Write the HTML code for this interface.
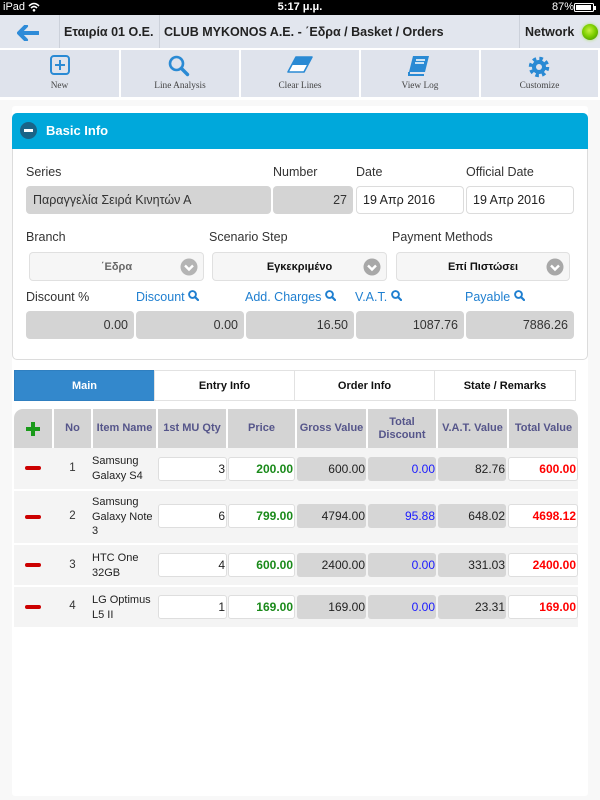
<!DOCTYPE html>
<html><head><meta charset="utf-8">
<style>
*{margin:0;padding:0;box-sizing:border-box}
body{width:600px;height:800px;overflow:hidden;background:#f7f7f7;font-family:"Liberation Sans","DejaVu Sans",sans-serif;position:relative;color:#222}
.a{position:absolute}
.lbl{position:absolute;font-size:12.5px;color:#333;line-height:16px;white-space:nowrap}
.blue{color:#1f7fd0}
.fld{position:absolute;height:28px;line-height:28px;font-size:12.5px;border-radius:4px;white-space:nowrap;overflow:hidden}
.gray{background:#d4d4d4;color:#333;text-align:right;padding-right:6px}
.wht{background:#fff;border:1px solid #dcdcdc;color:#222;padding-left:6px;line-height:26px}
.dd{position:absolute;top:252px;height:29px;background:#f6f6f6;border:1px solid #e0e0e0;border-radius:4px;font-size:11px;font-weight:bold;line-height:28px;text-align:center}
.chev{position:absolute;top:5px;width:18px;height:18px}
.tb{position:absolute;top:50px;height:47px;background:#dfe3ec}
.tbl{position:absolute;top:30px;left:0;right:0;text-align:center;font-family:"Liberation Serif",serif;font-size:9.3px;color:#444;line-height:12px}
.tab{position:absolute;top:370px;height:31px;line-height:31px;text-align:center;font-size:11px;font-weight:bold;background:#fff;border:1px solid #e2e2e2;color:#111}
.th{position:absolute;top:409px;height:39px;background:#d4d4d4;color:#55558a;font-size:11px;font-weight:bold;text-align:center;display:flex;align-items:center;justify-content:center;line-height:13px}
.row{position:absolute;left:14px;width:564px;background:#f4f4f4}
.c{position:absolute;height:24px;line-height:24px;font-size:12px;text-align:right;padding-right:1px;border-radius:3px;white-space:nowrap}
.iw{background:#fff;border:1px solid #dedede;line-height:22px}
.ig{background:#d6d6d6}
.minus{position:absolute;left:25px;width:16px;height:4px;background:#cc0000;border-radius:2px}
.no{position:absolute;left:54px;width:37px;text-align:center;font-size:11.5px;color:#333}
.nm{position:absolute;left:92px;font-size:11px;line-height:14.5px;color:#222}
</style></head><body>

<!-- status bar -->
<div class="a" style="left:0;top:0;width:600px;height:15px;background:#000"></div>
<div class="a" style="left:3px;top:1px;color:#fff;font-size:11px;line-height:13px">iPad</div>
<svg class="a" style="left:28px;top:2px" width="12" height="10" viewBox="0 0 12 10"><path d="M1 4 Q6 -1 11 4" stroke="#fff" stroke-width="1.6" fill="none"/><path d="M3 6 Q6 3 9 6" stroke="#fff" stroke-width="1.6" fill="none"/><circle cx="6" cy="8.3" r="1.3" fill="#fff"/></svg>
<div class="a" style="left:260px;width:80px;top:1px;color:#fff;font-size:11px;font-weight:bold;line-height:13px;text-align:center">5:17 μ.μ.</div>
<div class="a" style="left:552px;top:1px;color:#fff;font-size:11px;line-height:13px">87%</div>
<div class="a" style="left:574px;top:3px;width:20px;height:9px;border:1px solid #fff;border-radius:1.5px;padding:1px"><div style="width:15px;height:5px;background:#fff"></div></div>
<div class="a" style="left:594px;top:5.5px;width:2px;height:4px;background:#fff"></div>

<!-- nav bar -->
<div class="a" style="left:0;top:15px;width:600px;height:33px;background:#e2e6ee"></div>
<div class="a" style="left:0;top:48px;width:600px;height:52px;background:#fff"></div>
<svg class="a" style="left:17px;top:25px" width="22" height="16" viewBox="0 0 22 16"><path d="M9 1 L2 8 L9 15 M2.5 8 L21 8" stroke="#2e8bd8" stroke-width="4" fill="none" stroke-linejoin="round" stroke-linecap="round"/></svg>
<div class="a" style="left:59px;top:15px;width:1px;height:33px;background:#ccd1da"></div>
<div class="a" style="left:159px;top:15px;width:1px;height:33px;background:#ccd1da"></div>
<div class="a" style="left:519px;top:15px;width:1px;height:33px;background:#ccd1da"></div>
<div class="a" style="left:64px;top:24px;font-size:12.5px;font-weight:bold;line-height:16px;white-space:nowrap">Εταιρία 01 Ο.Ε.</div>
<div class="a" style="left:164px;top:24px;font-size:12.5px;font-weight:bold;line-height:16px;white-space:nowrap">CLUB MYKONOS A.E. - ΄Εδρα / Basket / Orders</div>
<div class="a" style="left:525px;top:24px;font-size:12.5px;font-weight:bold;line-height:16px;white-space:nowrap">Network</div>
<div class="a" style="left:582px;top:24px;width:16px;height:16px;border-radius:50%;background:radial-gradient(circle at 45% 40%,#c8f040 0%,#7ed000 45%,#58a800 75%,#d8e8c8 80%,#f0f4ea 100%);box-shadow:0 0 3px #a8e060"></div>

<!-- toolbar -->
<div class="tb" style="left:0;width:119px">
<svg class="a" style="left:50px;top:5px" width="20" height="20" viewBox="0 0 20 20"><rect x="1" y="1" width="18" height="18" rx="3" stroke="#2a8ad4" stroke-width="2" fill="none"/><path d="M10 5 V15 M5 10 H15" stroke="#2a8ad4" stroke-width="2"/></svg>
<div class="tbl">New</div></div>
<div class="tb" style="left:121px;width:118px">
<svg class="a" style="left:47px;top:5px" width="22" height="22" viewBox="0 0 22 22"><circle cx="8.5" cy="8.5" r="6.5" stroke="#2a8ad4" stroke-width="2.6" fill="none"/><path d="M13.5 13.5 L19.5 19.5" stroke="#2a8ad4" stroke-width="3.4" stroke-linecap="round"/></svg>
<div class="tbl">Line Analysis</div></div>
<div class="tb" style="left:241px;width:118px">
<svg class="a" style="left:45px;top:6px" width="28" height="18" viewBox="0 0 28 18"><path d="M10 1 L26 1 L18 16 L2 16 Z" fill="#2a8ad4"/><path d="M6 9 L22 9 L18 16 L2 16 Z" fill="#fff"/><path d="M10 1 L26 1 L18 16 L2 16 Z" stroke="#2a8ad4" stroke-width="1.6" fill="none" stroke-linejoin="round"/></svg>
<div class="tbl">Clear Lines</div></div>
<div class="tb" style="left:361px;width:118px">
<svg class="a" style="left:46px;top:5px" width="24" height="22" viewBox="0 0 24 22"><path d="M6 1 L22 1 L18 17 L2 17 Z" fill="#2a8ad4"/><path d="M2 17 L2 20 L17 20" stroke="#2a8ad4" stroke-width="2" fill="none"/><path d="M9 5 L18 5 M8 8 L17 8" stroke="#fff" stroke-width="1.4"/></svg>
<div class="tbl">View Log</div></div>
<div class="tb" style="left:481px;width:117px">
<svg class="a" style="left:47px;top:6px" width="22" height="22" viewBox="0 0 22 22"><circle cx="11" cy="11" r="8" stroke="#2a8ad4" stroke-width="4.5" fill="none" stroke-dasharray="3.3 3"/><circle cx="11" cy="11" r="7" fill="#2a8ad4"/><circle cx="11" cy="11" r="3" fill="#dfe3ec"/></svg>
<div class="tbl">Customize</div></div>

<!-- content container -->
<div class="a" style="left:0;top:100px;width:600px;height:700px;background:#f8f8f8"></div>
<div class="a" style="left:12px;top:106px;width:576px;height:690px;background:#fff;border-radius:3px"></div>

<!-- Basic Info panel -->
<div class="a" style="left:12px;top:113px;width:576px;height:247px;border:1px solid #dcdcdc;border-radius:5px;background:#fff"></div>
<div class="a" style="left:12px;top:113px;width:576px;height:36px;background:#00a8db;border-radius:5px 5px 0 0"></div>
<div class="a" style="left:20px;top:122px;width:17px;height:17px;border-radius:50%;background:#1a6487"><div style="position:absolute;left:4px;top:7px;width:9px;height:3px;background:#fff"></div></div>
<div class="a" style="left:46px;top:123px;color:#fff;font-size:13px;font-weight:bold;line-height:16px">Basic Info</div>

<div class="lbl" style="left:26px;top:164px">Series</div>
<div class="lbl" style="left:273px;top:164px">Number</div>
<div class="lbl" style="left:356px;top:164px">Date</div>
<div class="lbl" style="left:466px;top:164px">Official Date</div>
<div class="fld gray" style="left:26px;top:186px;width:245px;text-align:left;padding-left:7px">Παραγγελία Σειρά Κινητών Α</div>
<div class="fld gray" style="left:273px;top:186px;width:80px">27</div>
<div class="fld wht" style="left:356px;top:186px;width:108px">19 Απρ 2016</div>
<div class="fld wht" style="left:466px;top:186px;width:108px">19 Απρ 2016</div>

<div class="lbl" style="left:26px;top:229px">Branch</div>
<div class="lbl" style="left:209px;top:229px">Scenario Step</div>
<div class="lbl" style="left:392px;top:229px">Payment Methods</div>

<div class="dd" style="left:29px;width:175px;color:#666">΄Εδρα
<svg class="chev" style="left:150px" viewBox="0 0 18 18"><circle cx="9" cy="9" r="8.5" fill="#b4b4b4"/><path d="M5 7.5 L9 11.5 L13 7.5" stroke="#fff" stroke-width="2.4" fill="none"/></svg></div>
<div class="dd" style="left:212px;width:175px;color:#111">Εγκεκριμένο
<svg class="chev" style="left:150px" viewBox="0 0 18 18"><circle cx="9" cy="9" r="8.5" fill="#a8a8a8"/><path d="M5 7.5 L9 11.5 L13 7.5" stroke="#fff" stroke-width="2.4" fill="none"/></svg></div>
<div class="dd" style="left:396px;width:174px;color:#111">Επί Πιστώσει
<svg class="chev" style="left:149px" viewBox="0 0 18 18"><circle cx="9" cy="9" r="8.5" fill="#a8a8a8"/><path d="M5 7.5 L9 11.5 L13 7.5" stroke="#fff" stroke-width="2.4" fill="none"/></svg></div>

<div class="lbl" style="left:26px;top:289px">Discount %</div>
<div class="lbl blue" style="left:136px;top:289px">Discount <svg width="11" height="11" viewBox="0 0 11 11"><circle cx="4.5" cy="4.5" r="3.4" stroke="#1f7fd0" stroke-width="1.9" fill="none"/><path d="M7 7 L10 10" stroke="#1f7fd0" stroke-width="2.2" stroke-linecap="round"/></svg></div>
<div class="lbl blue" style="left:245px;top:289px">Add. Charges <svg width="11" height="11" viewBox="0 0 11 11"><circle cx="4.5" cy="4.5" r="3.4" stroke="#1f7fd0" stroke-width="1.9" fill="none"/><path d="M7 7 L10 10" stroke="#1f7fd0" stroke-width="2.2" stroke-linecap="round"/></svg></div>
<div class="lbl blue" style="left:355px;top:289px">V.A.T. <svg width="11" height="11" viewBox="0 0 11 11"><circle cx="4.5" cy="4.5" r="3.4" stroke="#1f7fd0" stroke-width="1.9" fill="none"/><path d="M7 7 L10 10" stroke="#1f7fd0" stroke-width="2.2" stroke-linecap="round"/></svg></div>
<div class="lbl blue" style="left:465px;top:289px">Payable <svg width="11" height="11" viewBox="0 0 11 11"><circle cx="4.5" cy="4.5" r="3.4" stroke="#1f7fd0" stroke-width="1.9" fill="none"/><path d="M7 7 L10 10" stroke="#1f7fd0" stroke-width="2.2" stroke-linecap="round"/></svg></div>

<div class="fld gray" style="left:26px;top:311px;width:108px">0.00</div>
<div class="fld gray" style="left:136px;top:311px;width:108px">0.00</div>
<div class="fld gray" style="left:246px;top:311px;width:108px">16.50</div>
<div class="fld gray" style="left:356px;top:311px;width:108px">1087.76</div>
<div class="fld gray" style="left:466px;top:311px;width:108px">7886.26</div>

<!-- tabs -->
<div class="tab" style="left:14px;width:141px;background:#3388cc;border-color:#2f7fc0;color:#fff">Main</div>
<div class="tab" style="left:154px;width:141px">Entry Info</div>
<div class="tab" style="left:294px;width:141px">Order Info</div>
<div class="tab" style="left:434px;width:142px">State / Remarks</div>

<!-- table header -->
<div class="th" style="left:14px;width:38px;border-top-left-radius:9px"><svg width="16" height="16" viewBox="0 0 16 16"><path d="M8 1 V15 M1 8 H15" stroke="#1a9a1a" stroke-width="4"/></svg></div>
<div class="th" style="left:54px;width:37px">No</div>
<div class="th" style="left:93px;width:63px">Item Name</div>
<div class="th" style="left:158px;width:68px">1st MU Qty</div>
<div class="th" style="left:228px;width:67px">Price</div>
<div class="th" style="left:297px;width:69px">Gross Value</div>
<div class="th" style="left:368px;width:68px">Total<br>Discount</div>
<div class="th" style="left:438px;width:69px">V.A.T. Value</div>
<div class="th" style="left:509px;width:69px;border-top-right-radius:9px">Total Value</div>

<!-- rows -->
<div class="row" style="top:448px;height:41px"></div>
<div class="row" style="top:491px;height:52px"></div>
<div class="row" style="top:545px;height:40px"></div>
<div class="row" style="top:587px;height:40px"></div>

<!-- row 1 -->
<div class="minus" style="top:466px"></div>
<div class="no" style="top:462px">1</div>
<div class="nm" style="top:454px">Samsung<br>Galaxy S4</div>
<div class="c iw" style="left:158px;top:457px;width:69px">3</div>
<div class="c iw" style="left:228px;top:457px;width:67px;color:#1a8a1a;font-weight:bold">200.00</div>
<div class="c ig" style="left:297px;top:457px;width:69px">600.00</div>
<div class="c ig" style="left:368px;top:457px;width:68px;color:#1a1aff">0.00</div>
<div class="c ig" style="left:438px;top:457px;width:68px">82.76</div>
<div class="c iw" style="left:508px;top:457px;width:70px;color:#f00;font-weight:bold">600.00</div>

<!-- row 2 -->
<div class="minus" style="top:515px"></div>
<div class="no" style="top:510px">2</div>
<div class="nm" style="top:495px">Samsung<br>Galaxy Note<br>3</div>
<div class="c iw" style="left:158px;top:504px;width:69px">6</div>
<div class="c iw" style="left:228px;top:504px;width:67px;color:#1a8a1a;font-weight:bold">799.00</div>
<div class="c ig" style="left:297px;top:504px;width:69px">4794.00</div>
<div class="c ig" style="left:368px;top:504px;width:68px;color:#1a1aff">95.88</div>
<div class="c ig" style="left:438px;top:504px;width:68px">648.02</div>
<div class="c iw" style="left:508px;top:504px;width:70px;color:#f00;font-weight:bold">4698.12</div>

<!-- row 3 -->
<div class="minus" style="top:563px"></div>
<div class="no" style="top:559px">3</div>
<div class="nm" style="top:551px">HTC One<br>32GB</div>
<div class="c iw" style="left:158px;top:553px;width:69px">4</div>
<div class="c iw" style="left:228px;top:553px;width:67px;color:#1a8a1a;font-weight:bold">600.00</div>
<div class="c ig" style="left:297px;top:553px;width:69px">2400.00</div>
<div class="c ig" style="left:368px;top:553px;width:68px;color:#1a1aff">0.00</div>
<div class="c ig" style="left:438px;top:553px;width:68px">331.03</div>
<div class="c iw" style="left:508px;top:553px;width:70px;color:#f00;font-weight:bold">2400.00</div>

<!-- row 4 -->
<div class="minus" style="top:605px"></div>
<div class="no" style="top:600px">4</div>
<div class="nm" style="top:593px">LG Optimus<br>L5 II</div>
<div class="c iw" style="left:158px;top:595px;width:69px">1</div>
<div class="c iw" style="left:228px;top:595px;width:67px;color:#1a8a1a;font-weight:bold">169.00</div>
<div class="c ig" style="left:297px;top:595px;width:69px">169.00</div>
<div class="c ig" style="left:368px;top:595px;width:68px;color:#1a1aff">0.00</div>
<div class="c ig" style="left:438px;top:595px;width:68px">23.31</div>
<div class="c iw" style="left:508px;top:595px;width:70px;color:#f00;font-weight:bold">169.00</div>

</body></html>
